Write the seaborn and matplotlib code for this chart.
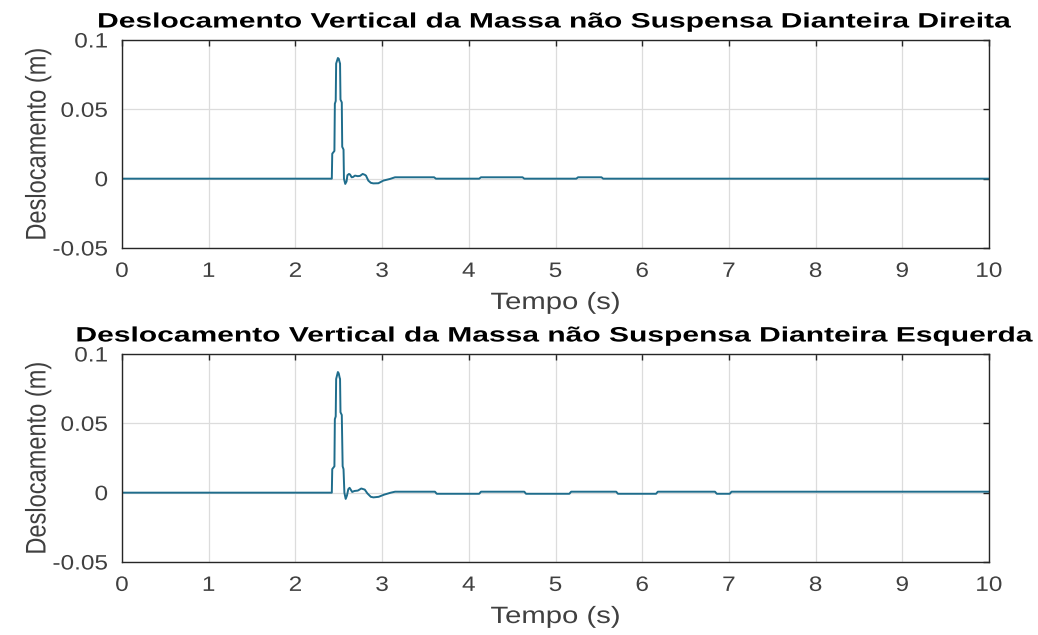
import numpy as np
import pandas as pd
import seaborn as sns
import matplotlib
matplotlib.use("Agg")
import matplotlib.pyplot as plt
from matplotlib.patheffects import AbstractPathEffect
from matplotlib.transforms import Affine2D

# ---- data -------------------------------------------------------------
# front-right unsprung mass vertical displacement (m) vs time (s)
t_right = [0.0, 2.42, 2.425, 2.45, 2.455, 2.465, 2.47, 2.49, 2.50, 2.51, 2.515,
           2.52, 2.535, 2.54, 2.555, 2.56, 2.575, 2.59, 2.60, 2.618, 2.63, 2.649,
           2.665, 2.687, 2.72, 2.745, 2.776, 2.80, 2.814, 2.841, 2.87, 2.899,
           2.957, 3.014, 3.091, 3.149, 3.60, 3.62, 4.12, 4.14, 4.62, 4.64,
           5.24, 5.26, 5.53, 5.55, 10.0]
z_right = [0.0, 0.0, 0.018, 0.020, 0.054, 0.056, 0.083, 0.087, 0.0865, 0.084, 0.083,
           0.057, 0.055, 0.023, 0.021, 0.0, -0.0038, -0.002, 0.0025, 0.0034, 0.003, 0.001,
           0.0012, 0.0022, 0.0018, 0.002, 0.0034, 0.0028, 0.0022, -0.0014, -0.003, -0.0034,
           -0.0033, -0.0014, -0.0002, 0.0010, 0.0010, 0.0, 0.0, 0.0010, 0.0010, 0.0,
           0.0, 0.0010, 0.0010, 0.0, 0.0]

# front-left unsprung mass vertical displacement (m) vs time (s)
t_left = [0.0, 2.42, 2.425, 2.45, 2.455, 2.465, 2.47, 2.49, 2.50, 2.51, 2.515,
          2.52, 2.535, 2.545, 2.555, 2.565, 2.58, 2.595, 2.61, 2.625, 2.64, 2.655,
          2.68, 2.72, 2.76, 2.80, 2.83, 2.87, 2.90, 2.96, 3.02, 3.10, 3.15,
          3.61, 3.63, 4.12, 4.14, 4.64, 4.66, 5.16, 5.18, 5.70, 5.72, 6.16, 6.18,
          6.84, 6.86, 7.01, 7.03, 10.0]
z_left = [0.0, 0.0, 0.017, 0.019, 0.053, 0.055, 0.082, 0.087, 0.086, 0.083, 0.082,
          0.058, 0.056, 0.019, 0.017, 0.0, -0.0045, -0.002, 0.0025, 0.0035, 0.002, 0.0005,
          0.0012, 0.0015, 0.0030, 0.0022, -0.0005, -0.0030, -0.0034, -0.0030, -0.0015, 0.0, 0.0007,
          0.0007, -0.0008, -0.0008, 0.0007, 0.0007, -0.0008, -0.0008, 0.0007, 0.0007, -0.0008,
          -0.0008, 0.0007, 0.0007, -0.0008, -0.0008, 0.0007, 0.0007]

titles = ["Deslocamento Vertical da Massa não Suspensa Dianteira Direita",
          "Deslocamento Vertical da Massa não Suspensa Dianteira Esquerda"]
x_label = "Tempo (s)"
y_label = "Deslocamento (m)"
x_ticks = [0, 1, 2, 3, 4, 5, 6, 7, 8, 9, 10]
y_ticks = [-0.05, 0, 0.05, 0.1]
y_tick_labels = ["-0.05", "0", "0.05", "0.1"]


# ---- wide text helper --------------------------------------------------
class Stretch(AbstractPathEffect):
    """Scale glyph outlines about an anchor in text-local coordinates."""

    def __init__(self, sx=1.0, sy=1.0, anchor="center"):
        super().__init__()
        self.sx, self.sy, self.anchor = sx, sy, anchor

    def draw_path(self, renderer, gc, tpath, affine, rgbFace=None):
        ext = tpath.get_extents()
        if self.anchor == "left":
            ax0 = ext.x0
        elif self.anchor == "right":
            ax0 = ext.x1
        else:
            ax0 = 0.5 * (ext.x0 + ext.x1)
        ay0 = 0.5 * (ext.y0 + ext.y1)
        tr = Affine2D().translate(-ax0, -ay0).scale(self.sx, self.sy).translate(ax0, ay0)
        renderer.draw_path(gc, tpath, tr + affine, rgbFace)


# ---- style -------------------------------------------------------------
sns.set_theme(style="white")
plt.rcParams["font.family"] = ["Liberation Sans", "DejaVu Sans"]
plt.rcParams["axes.edgecolor"] = "#262626"
plt.rcParams["axes.linewidth"] = 1.0

line_color = "#1f6d8c"
text_gray = "#404040"

fig = plt.figure(figsize=(10.38, 6.35), dpi=100)
W, H = 1038, 635
left, right = 122, 989
panels = [(40, 248), (354, 562)]

series = [(t_right, z_right), (t_left, z_left)]

for (top, bottom), (tt, zz), title in zip(panels, series, titles):
    ax = fig.add_axes([left / W, 1 - bottom / H, (right - left) / W, (bottom - top) / H])
    df = pd.DataFrame({"t": tt, "z": zz})
    sns.lineplot(data=df, x="t", y="z", ax=ax, color=line_color, linewidth=1.4,
                 estimator=None, sort=False)

    ax.set_xlim(0, 10)
    ax.set_ylim(-0.05, 0.1)
    ax.set_xticks(x_ticks)
    ax.set_xticklabels([str(v) for v in x_ticks])
    ax.set_yticks(y_ticks)
    ax.set_yticklabels(y_tick_labels)

    ax.grid(True, color="#dcdcdc", linewidth=0.9)
    ax.set_axisbelow(True)
    for s in ax.spines.values():
        s.set_visible(True)
        s.set_color("#262626")
        s.set_linewidth(1.0)

    ax.tick_params(axis="both", which="major", direction="in", length=4, width=1.0,
                   color="#262626", labelcolor=text_gray, labelsize=15,
                   top=True, right=True)
    ax.tick_params(axis="x", pad=10)
    ax.tick_params(axis="y", pad=10)

    for lbl in ax.get_xticklabels():
        lbl.set_path_effects([Stretch(sx=1.17, anchor="center")])
    for lbl in ax.get_yticklabels():
        lbl.set_path_effects([Stretch(sx=1.17, anchor="right")])

    ax.set_xlabel(x_label, fontsize=17, color=text_gray, labelpad=8,
                  path_effects=[Stretch(sx=1.24)])
    ax.set_ylabel(y_label, fontsize=17, color=text_gray, labelpad=8,
                  path_effects=[Stretch(sy=1.2)])
    ax.set_title(title, fontsize=15, fontweight="bold", color="black", pad=9,
                 path_effects=[Stretch(sx=1.44)])

fig.savefig("out.png", dpi=100)
